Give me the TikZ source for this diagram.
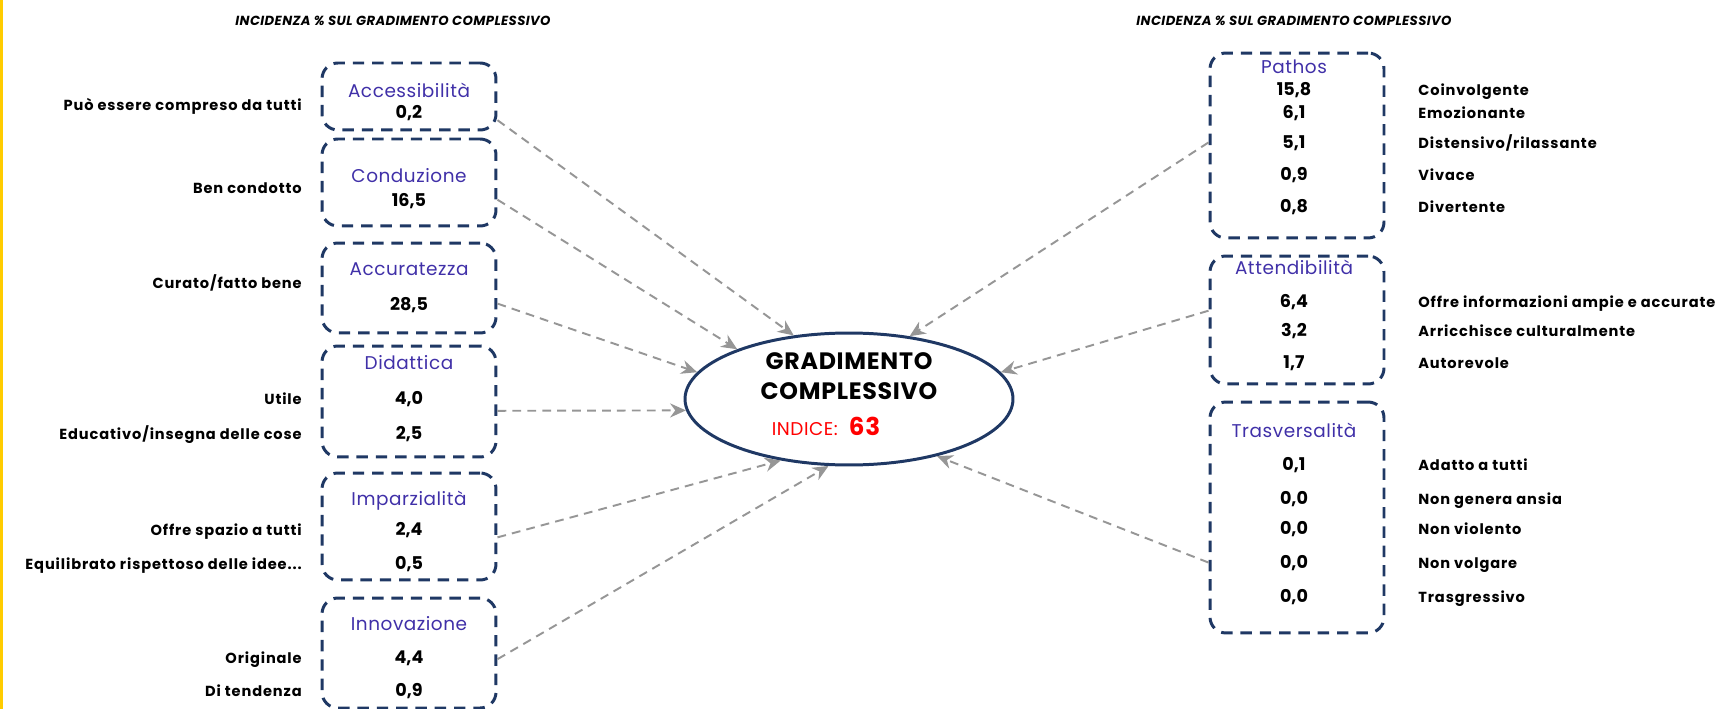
\documentclass[tikz,border=0pt]{standalone}
\usepackage{fontspec}
\setmainfont{Poppins}
\newfontfamily\grwide[LetterSpace=6]{Poppins}
\newfontfamily\grtrack[LetterSpace=3]{Poppins}
\usepackage{tikz}
\usetikzlibrary{shapes.geometric,arrows.meta}
\definecolor{grnavy}{RGB}{31,56,100}
\definecolor{grpurple}{RGB}{64,48,168}
\definecolor{grgrey}{RGB}{150,150,150}
\definecolor{grred}{RGB}{255,0,0}
\definecolor{gryellow}{RGB}{255,204,0}
\tikzstyle{grbox}=[rectangle, draw=grnavy, line width=1.7pt, dash pattern=on 6.5pt off 4.5pt, rounded corners=9pt, minimum width=3.48cm]
\tikzstyle{grtitle}=[text=grpurple, inner sep=0pt, text height=0.7em, text depth=0pt, font=\grtrack\fontsize{10.5pt}{12pt}\selectfont]
\tikzstyle{grvalue}=[inner sep=0pt, text height=0.7em, text depth=0pt, font=\bfseries\fontsize{10pt}{12pt}\selectfont]
\tikzstyle{grlabel}=[inner sep=0pt, text height=0.7em, text depth=0pt, font=\grwide\bfseries\fontsize{8.3pt}{10pt}\selectfont]
\tikzstyle{grhead}=[inner sep=0pt, text height=0.7em, text depth=0pt, font=\grtrack\bfseries\itshape\fontsize{7.5pt}{9pt}\selectfont]
\tikzstyle{grarrow}=[draw=grgrey, line width=1.1pt, dash pattern=on 5pt off 3.5pt, -{Stealth[length=9pt,width=8pt]}]
\newcommand{\grbox}[3]{
	\node[grbox, minimum height=#3] (#1) at (#2) {};}
\newcommand{\grtitle}[3]{
	\node[grtitle] (#1) at (#2) {#3};}
\newcommand{\grvalue}[3]{
	\node[grvalue] (#1) at (#2) {#3};}
\newcommand{\grleft}[3]{
	\node[grlabel, anchor=east] (#1) at (#2) {#3};}
\newcommand{\grright}[3]{
	\node[grlabel, anchor=west] (#1) at (#2) {#3};}

\begin{document}
\begin{tikzpicture}[x=0.02cm, y=-0.02cm]
	\useasboundingbox (0,0) rectangle (1733,709);
	\fill[gryellow] (0,0) rectangle (3,709);

	\node[grhead] (hl) at (393,19) {INCIDENZA \% SUL GRADIMENTO COMPLESSIVO};
	\node[grhead] (hr) at (1294,19) {INCIDENZA \% SUL GRADIMENTO COMPLESSIVO};

	% left side
	\grbox{acc}{409,96.5}{1.34cm}
	\grtitle{acct}{409,91}{Accessibilità}
	\grvalue{accv}{409,112}{0,2}
	\grleft{accl}{302,104}{Può essere compreso da tutti}

	\grbox{con}{409,182.5}{1.74cm}
	\grtitle{cont}{409,176}{Conduzione}
	\grvalue{conv}{409,200}{16,5}
	\grleft{conl}{302,187}{Ben condotto}

	\grbox{acu}{409,288}{1.8cm}
	\grtitle{acut}{409,269}{Accuratezza}
	\grvalue{acuv}{409,304}{28,5}
	\grleft{acul}{302,282}{Curato/fatto bene}

	\grbox{did}{409,401.5}{2.22cm}
	\grtitle{didt}{409,363}{Didattica}
	\grvalue{didv1}{409,398}{4,0}
	\grvalue{didv2}{409,433}{2,5}
	\grleft{didl1}{302,398}{Utile}
	\grleft{didl2}{302,433}{Educativo/insegna delle cose}

	\grbox{imp}{409,526.5}{2.14cm}
	\grtitle{impt}{409,499}{Imparzialità}
	\grvalue{impv1}{409,529}{2,4}
	\grvalue{impv2}{409,563}{0,5}
	\grleft{impl1}{302,529}{Offre spazio a tutti}
	\grleft{impl2}{302,563}{Equilibrato rispettoso delle idee...}

	\grbox{inn}{409,653}{2.2cm}
	\grtitle{innt}{409,624}{Innovazione}
	\grvalue{innv1}{409,657}{4,4}
	\grvalue{innv2}{409,690}{0,9}
	\grleft{innl1}{302,657}{Originale}
	\grleft{innl2}{302,690}{Di tendenza}

	% centre
	\node[ellipse, draw=grnavy, line width=1.7pt, minimum width=6.56cm, minimum height=2.64cm] (gc) at (849,399) {};
	\node[font=\grtrack\bfseries\fontsize{13.5pt}{15pt}\selectfont, inner sep=0pt, text height=0.7em, text depth=0pt] (gc1) at (849,363) {GRADIMENTO};
	\node[font=\grtrack\bfseries\fontsize{13.5pt}{15pt}\selectfont, inner sep=0pt, text height=0.7em, text depth=0pt] (gc2) at (849,393) {COMPLESSIVO};
	\node[text=grred, font=\grtrack\fontsize{10.5pt}{12pt}\selectfont, inner sep=0pt, text height=0.7em, text depth=0pt] (gc3) at (826,429) {INDICE:\ \ {\bfseries\fontsize{14pt}{15pt}\selectfont 63}};

	% right side
	\grbox{pat}{1297,145.5}{3.7cm}
	\grtitle{patt}{1294,67}{Pathos}
	\grvalue{patv1}{1294,89}{15,8}
	\grvalue{patv2}{1294,112}{6,1}
	\grvalue{patv3}{1294,142}{5,1}
	\grvalue{patv4}{1294,174}{0,9}
	\grvalue{patv5}{1294,206}{0,8}
	\grright{patl1}{1418,89}{Coinvolgente}
	\grright{patl2}{1418,112}{Emozionante}
	\grright{patl3}{1418,142}{Distensivo/rilassante}
	\grright{patl4}{1418,174}{Vivace}
	\grright{patl5}{1418,206}{Divertente}

	\grbox{att}{1297,320}{2.56cm}
	\grtitle{attt}{1294,268}{Attendibilità}
	\grvalue{attv1}{1294,301}{6,4}
	\grvalue{attv2}{1294,330}{3,2}
	\grvalue{attv3}{1294,362}{1,7}
	\grright{attl1}{1418,301}{Offre informazioni ampie e accurate}
	\grright{attl2}{1418,330}{Arricchisce culturalmente}
	\grright{attl3}{1418,362}{Autorevole}

	\grbox{tra}{1297,517.5}{4.62cm}
	\grtitle{trat}{1294,431}{Trasversalità}
	\grvalue{trav1}{1294,464}{0,1}
	\grvalue{trav2}{1294,498}{0,0}
	\grvalue{trav3}{1294,528}{0,0}
	\grvalue{trav4}{1294,562}{0,0}
	\grvalue{trav5}{1294,596}{0,0}
	\grright{tral1}{1418,464}{Adatto a tutti}
	\grright{tral2}{1418,498}{Non genera ansia}
	\grright{tral3}{1418,528}{Non violento}
	\grright{tral4}{1418,562}{Non volgare}
	\grright{tral5}{1418,596}{Trasgressivo}

	% arrows
	\draw[grarrow] (acc.-15) -- (gc.131);
	\draw[grarrow] (con.-11) -- (gc.156);
	\draw[grarrow] (acu.-10) -- (gc.170);
	\draw[grarrow] (did.-6) -- (gc.184);
	\draw[grarrow] (imp.-7.5) -- (gc.222);
	\draw[grarrow] (inn.-4) -- (gc.253);
	\draw[grarrow] (pat.178) -- (gc.46);
	\draw[grarrow] (att.174) -- (gc.10.5);
	\draw[grarrow] (tra.207) -- (gc.-33);
\end{tikzpicture}
\end{document}
